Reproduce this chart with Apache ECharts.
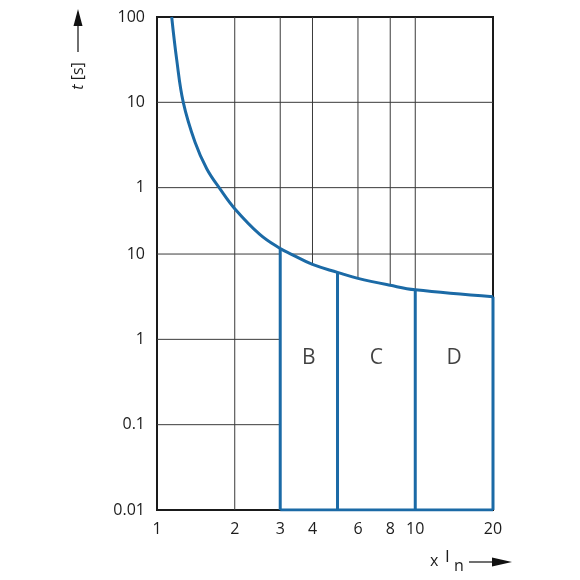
<!DOCTYPE html>
<html><head><meta charset="utf-8">
<script src="https://cdn.jsdelivr.net/npm/echarts@6/dist/echarts.min.js"></script>
<style>html,body{margin:0;padding:0;background:#fff}#c{width:580px;height:580px}</style>
</head><body><div id="c"></div>
<script>
// ---- data ----
const xTicks = [1, 2, 3, 4, 6, 8, 10, 20];              // multiples of In
const xTickLabels = ['1', '2', '3', '4', '6', '8', '10', '20'];
const yTicks = [6000, 600, 60, 10, 1, 0.1, 0.01];       // seconds
const yTickLabels = ['100', '10', '1', '10', '1', '0.1', '0.01']; // top three in minutes
const curveX = [1.14, 1.192, 1.264, 1.404, 1.558, 1.754, 2, 2.5, 3, 3.3, 4, 5, 6, 8, 10, 20];
const curveT = [6000, 1900, 600, 204, 100, 58, 34, 17, 11.6, 10, 7.55, 6.1, 5.19, 4.3, 3.81, 3.16];
const classNames = ['B', 'C', 'D'];
const classBounds = [3, 5, 10, 20];
const classLabelT = 0.6;
const tMin = 0.01, tMax = 6000;
const xMin = 1, xMax = 20;

// ---- build ----
const L = Math.log10;
const BLUE = '#1b6aa6';
const FONT = 'Open Sans';
const TXT = '#1c1c1c';
function near(a, b) { return Math.abs(a - b) < 1e-6; }
function curveAt(x) { const i = curveX.findIndex(v => near(v, x)); return curveT[i]; }
const curveData = curveX.map((x, i) => [L(x), L(curveT[i])]);
const areaData = curveX.map((x, i) => [x, curveT[i]]).filter(p => p[0] >= classBounds[0]).map(p => [L(p[0]), L(p[1])]);

const series = [];
const gridStyle = { color: '#3a3a3a', width: 1 };
// grid lines
xTicks.slice(1, -1).forEach(v => series.push({
  type: 'line', z: 1, silent: true, symbol: 'none', lineStyle: gridStyle,
  data: [[L(v), L(tMin)], [L(v), L(tMax)]]
}));
yTicks.slice(1, -1).forEach(v => series.push({
  type: 'line', z: 1, silent: true, symbol: 'none', lineStyle: gridStyle,
  data: [[L(xMin), L(v)], [L(xMax), L(v)]]
}));
// white cover under the curve (classes area)
series.push({
  type: 'line', data: areaData, z: 2, silent: true, symbol: 'none', smooth: 0.4,
  lineStyle: { width: 0 }, areaStyle: { color: '#ffffff', opacity: 1, origin: 'start' }
});
// class boundaries
classBounds.forEach(b => {
  series.push({
    type: 'line', z: 3, silent: true, symbol: 'none',
    data: [[L(b), L(tMin)], [L(b), L(curveAt(b))]],
    lineStyle: { color: BLUE, width: 3 }
  });
});
series.push({
  type: 'line', z: 3, silent: true, symbol: 'none',
  data: [[L(classBounds[0]), L(tMin)], [L(classBounds[classBounds.length - 1]), L(tMin)]],
  lineStyle: { color: BLUE, width: 3 }
});
// curve
series.push({
  type: 'line', z: 4, silent: true, symbol: 'none', smooth: 0.4,
  data: curveData, lineStyle: { color: BLUE, width: 3 }
});
// class labels
series.push({
  type: 'scatter', z: 5, silent: true, symbolSize: 0,
  data: classNames.map((n, i) => ({ name: n, value: [L(Math.sqrt(classBounds[i] * classBounds[i + 1])), L(classLabelT)] })),
  label: { show: true, position: 'inside', formatter: p => p.name, fontFamily: FONT, fontSize: 21, color: '#111' }
});

const option = {
  animation: false,
  backgroundColor: '#fff',
  grid: { left: 157, right: 87, top: 17, bottom: 70, show: true, borderColor: '#1a1a1a', borderWidth: 2, backgroundColor: 'transparent' },
  xAxis: {
    type: 'value', min: L(xMin), max: L(xMax),
    axisLine: { show: false }, axisTick: { show: false }, splitLine: { show: false },
    axisLabel: {
      customValues: xTicks.map(L), margin: 11, fontFamily: FONT, fontSize: 16, color: TXT,
      formatter: v => { const i = xTicks.findIndex(t => Math.abs(L(t) - v) < 1e-6); return i >= 0 ? xTickLabels[i] : ''; }
    }
  },
  yAxis: {
    type: 'value', min: L(tMin), max: L(tMax),
    axisLine: { show: false }, axisTick: { show: false }, splitLine: { show: false },
    axisLabel: {
      customValues: yTicks.map(L), margin: 12, fontFamily: FONT, fontSize: 16, color: TXT,
      formatter: v => { const i = yTicks.findIndex(t => Math.abs(L(t) - v) < 1e-6); return i >= 0 ? yTickLabels[i] : ''; }
    }
  },
  graphic: [
    { type: 'text', x: 78, y: 76, rotation: Math.PI / 2,
      style: { text: '{i|t} [s]', fill: TXT, align: 'center', verticalAlign: 'middle', font: '16px "Open Sans"',
        rich: { i: { fontStyle: 'italic', fontFamily: FONT, fontSize: 16, fill: TXT } } } },
    { type: 'line', shape: { x1: 78, y1: 52, x2: 78, y2: 24 }, style: { stroke: '#222', lineWidth: 1.3 } },
    { type: 'polygon', shape: { points: [[73.5, 26], [82.5, 26], [78, 9]] }, style: { fill: '#111' } },
    { type: 'text', x: 430, y: 561, style: { text: 'x', fill: TXT, font: '16px "Open Sans"', verticalAlign: 'middle' } },
    { type: 'text', x: 445, y: 557, style: { text: 'I', fill: TXT, font: '17px "Open Sans"', verticalAlign: 'middle' } },
    { type: 'text', x: 454, y: 566, style: { text: 'n', fill: TXT, font: '16px "Open Sans"', verticalAlign: 'middle' } },
    { type: 'line', shape: { x1: 469, y1: 562, x2: 496, y2: 562 }, style: { stroke: '#222', lineWidth: 1.3 } },
    { type: 'polygon', shape: { points: [[492, 557.5], [492, 566.5], [512, 562]] }, style: { fill: '#111' } }
  ],
  series: series
};
const chart = echarts.init(document.getElementById('c'), null, { renderer: 'canvas' });
chart.setOption(option);
</script></body></html>
